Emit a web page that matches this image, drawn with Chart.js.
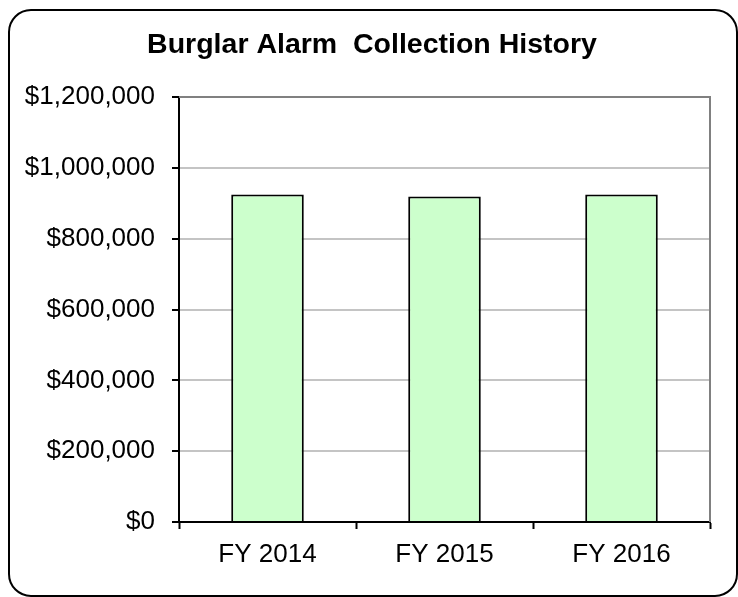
<!DOCTYPE html>
<html>
<head>
<meta charset="utf-8">
<script src="https://cdn.jsdelivr.net/npm/chart.js@4.4.1/dist/chart.umd.min.js"></script>
<style>
  body { margin: 0; background: #fff; }
  #wrap { width: 738px; height: 597px; }
</style>
</head>
<body>
<div id="wrap"><canvas id="chart" width="738" height="597"></canvas></div>
<script>
// DATA
const title = "Burglar Alarm  Collection History";
const years = ["FY 2014", "FY 2015", "FY 2016"];
const collections = [925000, 919000, 925000];
const yTicks = [0, 200000, 400000, 600000, 800000, 1000000, 1200000];

const FONT = "'Liberation Sans', Arial, sans-serif";

// frame, plot border and title (title sits off-centre from the plot, so drawn here)
const framePlugin = {
  id: "frame",
  beforeDraw(chart) {
    const c = chart.ctx;
    c.save();
    c.fillStyle = "#fff";
    c.fillRect(0, 0, chart.width, chart.height);
    c.restore();
  },
  afterDraw(chart) {
    const c = chart.ctx;
    const a = chart.chartArea;
    c.save();
    // plot area top + right edge in grey
    c.strokeStyle = "#808080";
    c.lineWidth = 2;
    c.beginPath();
    c.moveTo(a.left, a.top);
    c.lineTo(a.right, a.top);
    c.lineTo(a.right, a.bottom);
    c.stroke();
    // outer frame
    c.strokeStyle = "#000";
    c.lineWidth = 2;
    c.beginPath();
    c.roundRect(9, 10, 728, 586, 22);
    c.stroke();
    // title
    c.fillStyle = "#000";
    c.font = "bold 28.5px " + FONT;
    c.textAlign = "center";
    c.textBaseline = "alphabetic";
    c.fillText(title, 372, 53);
    c.restore();
  }
};

new Chart(document.getElementById("chart"), {
  type: "bar",
  data: {
    labels: years,
    datasets: [{
      data: collections,
      backgroundColor: "#CCFFCC",
      borderColor: "#000",
      borderWidth: 2,
      barPercentage: 0.41,
      categoryPercentage: 1
    }]
  },
  options: {
    responsive: false,
    animation: false,
    layout: { padding: { left: 0, right: 28, top: 97, bottom: 0 } },
    plugins: {
      legend: { display: false },
      tooltip: { enabled: false },
      title: { display: false }
    },
    scales: {
      x: {
        grid: {
          offset: true,
          drawOnChartArea: false,
          drawTicks: true,
          tickLength: 7,
          tickColor: "#000",
          tickWidth: 2
        },
        border: { color: "#000", width: 2 },
        ticks: {
          color: "#000",
          font: { family: FONT, size: 26 },
          padding: 10,
          maxRotation: 0
        },
        afterFit(scale) { scale.height = 75; }
      },
      y: {
        min: 0,
        max: 1200000,
        afterBuildTicks(scale) { scale.ticks = yTicks.map(v => ({ value: v })); },
        grid: {
          color: "#c4c4c4",
          lineWidth: 2,
          tickLength: 7,
          tickColor: "#000",
          tickWidth: 2
        },
        border: { color: "#000", width: 2 },
        ticks: {
          color: "#000",
          font: { family: FONT, size: 26 },
          padding: 17,
          callback: v => "$" + v.toLocaleString("en-US")
        },
        afterFit(scale) { scale.width = 179; }
      }
    }
  },
  plugins: [framePlugin]
});
</script>
</body>
</html>
